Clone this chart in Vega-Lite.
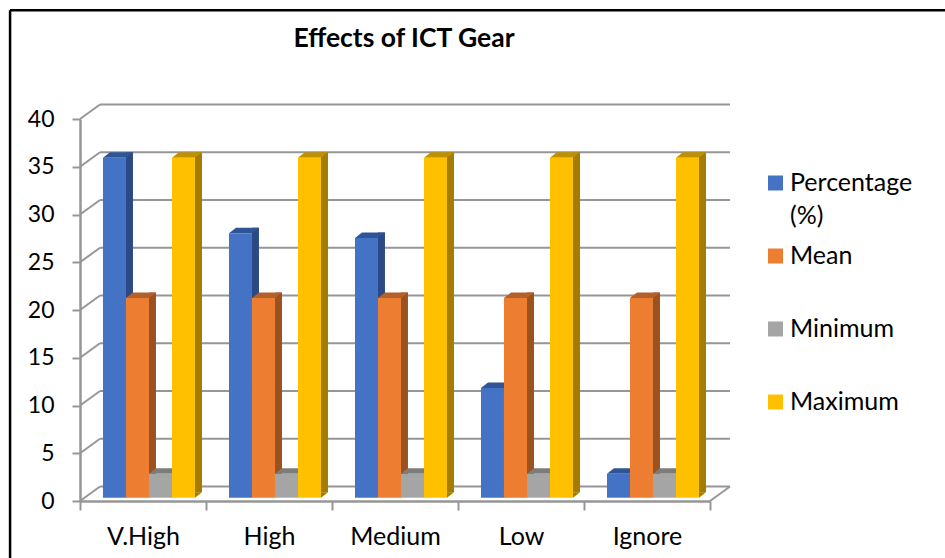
{
"$schema":"https://vega.github.io/schema/vega-lite/v6.json",
"autosize":{"type":"none"},
"padding":{"left":80,"top":119,"right":235,"bottom":57},
"width":630,"height":382,
"background":"white",
"title":{"text":"Effects of ICT Gear","font":"Lato","fontSize":26.5,"fontWeight":"bold","color":"#000000","anchor":"middle","dx":9,"offset":-44},
"config":{"view":{"stroke":null},"axis":{"grid":false}},
"datasets":{
"rows":[
{"level":"V.High","series":"Percentage (%)","value":35.6},
{"level":"High","series":"Percentage (%)","value":27.7},
{"level":"Medium","series":"Percentage (%)","value":27.2},
{"level":"Low","series":"Percentage (%)","value":11.5},
{"level":"Ignore","series":"Percentage (%)","value":2.5},
{"level":"V.High","series":"Mean","value":20.9},
{"level":"High","series":"Mean","value":20.9},
{"level":"Medium","series":"Mean","value":20.9},
{"level":"Low","series":"Mean","value":20.9},
{"level":"Ignore","series":"Mean","value":20.9},
{"level":"V.High","series":"Minimum","value":2.5},
{"level":"High","series":"Minimum","value":2.5},
{"level":"Medium","series":"Minimum","value":2.5},
{"level":"Low","series":"Minimum","value":2.5},
{"level":"Ignore","series":"Minimum","value":2.5},
{"level":"V.High","series":"Maximum","value":35.6},
{"level":"High","series":"Maximum","value":35.6},
{"level":"Medium","series":"Maximum","value":35.6},
{"level":"Low","series":"Maximum","value":35.6},
{"level":"Ignore","series":"Maximum","value":35.6}
],
"ticks":[{"t":0},{"t":5},{"t":10},{"t":15},{"t":20},{"t":25},{"t":30},{"t":35},{"t":40}]
},
"data":{"name":"rows"},
"resolve":{"scale":{"x":"independent","xOffset":"independent","color":"independent"},"axis":{"y":"independent"}},
"layer":[
{"data":{"values":[{"t":0}]},
 "mark":{"type":"rule","color":"#000000","strokeWidth":2.5},
 "encoding":{"x":{"datum":-0.111,"type":"quantitative","scale":{"domain":[0,1]},"axis":null},"x2":{"datum":1.381},"y":{"datum":51.4,"type":"quantitative","scale":{"domain":[0,40],"nice":false},"axis":null}}},
{"data":{"values":[{"t":0}]},
 "mark":{"type":"rule","color":"#000000","strokeWidth":2.5},
 "encoding":{"x":{"datum":-0.111,"type":"quantitative","scale":{"domain":[0,1]},"axis":null},"y":{"datum":51.4,"type":"quantitative","axis":null},"y2":{"datum":-6}}},
{"data":{"values":[{"t":0}]},
 "mark":{"type":"rule","color":"#000000","strokeWidth":2.5},
 "encoding":{"x":{"datum":1.381,"type":"quantitative","scale":{"domain":[0,1]},"axis":null},"y":{"datum":51.4,"type":"quantitative","axis":null},"y2":{"datum":-6}}},
{"data":{"name":"ticks"},
 "mark":{"type":"rule","color":"#969696","strokeWidth":2,"xOffset":20,"x2Offset":20,"yOffset":-14.5},
 "encoding":{"x":{"datum":0,"type":"quantitative","scale":{"domain":[0,1]},"axis":null},"x2":{"datum":1},"y":{"field":"t","type":"quantitative","axis":null}}},
{"data":{"name":"ticks"},
 "mark":{"type":"point","shape":"M0,0L20,-14.5","size":4,"filled":false,"color":"#969696","strokeWidth":2,"opacity":1},
 "encoding":{"x":{"datum":0,"type":"quantitative","scale":{"domain":[0,1]},"axis":null},"y":{"field":"t","type":"quantitative","axis":{"title":null,"values":[0,5,10,15,20,25,30,35,40],"labelFont":"Lato","labelFontSize":23,"labelColor":"#000000","labelPadding":18,"tickSize":8,"tickColor":"#969696","tickWidth":2,"domainColor":"#969696","domainWidth":2.5}}}},
{"data":{"values":[{"t":0}]},
 "mark":{"type":"point","shape":"M0,0L20,-14.5","size":4,"filled":false,"color":"#969696","strokeWidth":2,"opacity":1},
 "encoding":{"x":{"datum":1,"type":"quantitative","scale":{"domain":[0,1]},"axis":null},"y":{"field":"t","type":"quantitative","axis":null}}},
{"mark":{"type":"bar","width":7,"yOffset":-8.8,"y2Offset":-8.8,"stroke":null},
 "encoding":{
 "x":{"field":"level","type":"nominal","sort":["V.High","High","Medium","Low","Ignore"],"scale":{"paddingInner":0,"paddingOuter":0},"axis":null},
 "xOffset":{"field":"series","sort":["Percentage (%)","Mean","Minimum","Maximum"],"scale":{"range":[15,141],"paddingInner":0,"paddingOuter":0.739,"align":0.676}},
 "y":{"field":"value","type":"quantitative","stack":null,"axis":null},
 "y2":{"datum":0},
 "color":{"field":"series","scale":{"domain":["Percentage (%)","Mean","Minimum","Maximum"],"range":["#2B4A85","#9C5220","#6E6E6E","#A37C00"]},"legend":null}}},
{"mark":{"type":"point","shape":"M11.5,0L18.5,-5.5L11.5,-5.5Z","size":4,"filled":true,"opacity":1,"strokeWidth":0,"yOffset":-3.3},
 "encoding":{
 "x":{"field":"level","type":"nominal","sort":["V.High","High","Medium","Low","Ignore"],"scale":{"type":"band","paddingInner":0,"paddingOuter":0},"axis":null},
 "xOffset":{"field":"series","sort":["Percentage (%)","Mean","Minimum","Maximum"],"scale":{"type":"band","paddingInner":0,"paddingOuter":0.739,"align":0.676}},
 "y":{"datum":0,"type":"quantitative","axis":null},
 "color":{"field":"series","scale":{"domain":["Percentage (%)","Mean","Minimum","Maximum"],"range":["#2B4A85","#9C5220","#6E6E6E","#A37C00"]},"legend":null}}},
{"mark":{"type":"point","shape":"M-11.5,0L11.5,0L18.5,-5.5L-4.5,-5.5Z","size":4,"filled":true,"opacity":1,"strokeWidth":0,"yOffset":-3.3},
 "encoding":{
 "x":{"field":"level","type":"nominal","sort":["V.High","High","Medium","Low","Ignore"],"scale":{"type":"band","paddingInner":0,"paddingOuter":0},"axis":null},
 "xOffset":{"field":"series","sort":["Percentage (%)","Mean","Minimum","Maximum"],"scale":{"type":"band","paddingInner":0,"paddingOuter":0.739,"align":0.676}},
 "y":{"field":"value","type":"quantitative","axis":null},
 "color":{"field":"series","scale":{"domain":["Percentage (%)","Mean","Minimum","Maximum"],"range":["#2F5597","#B5602A","#7C7C7C","#BF9000"]},"legend":null}}},
{"mark":{"type":"bar","yOffset":-3.3,"y2Offset":-3.3,"stroke":null},
 "encoding":{
 "x":{"field":"level","type":"nominal","sort":["V.High","High","Medium","Low","Ignore"],"scale":{"paddingInner":0,"paddingOuter":0},"axis":{"title":null,"labelAngle":0,"tickBand":"extent","labelFont":"Lato","labelFontSize":25,"labelColor":"#000000","labelPadding":14,"tickSize":9,"tickColor":"#969696","tickWidth":2,"domainColor":"#969696","domainWidth":2.5}},
 "xOffset":{"field":"series","sort":["Percentage (%)","Mean","Minimum","Maximum"],"scale":{"paddingInner":0,"paddingOuter":0.739,"align":0.676}},
 "y":{"field":"value","type":"quantitative","stack":null,"axis":null},
 "y2":{"datum":0},
 "color":{"field":"series","scale":{"domain":["Percentage (%)","Mean","Minimum","Maximum"],"range":["#4472C4","#ED7D31","#A5A5A5","#FFC000"]},
 "legend":{"title":null,"orient":"none","legendX":683,"legendY":51.5,"symbolType":"square","symbolSize":225,"symbolStrokeWidth":0,"labelOffset":2,"labelFont":"Lato","labelFontSize":25,"labelColor":"#000000","labelBaseline":"alphabetic","labelLimit":200,"gridAlign":"all","rowPadding":14,"labelExpr":"datum.label === 'Percentage (%)' ? ['Percentage','(%)'] : datum.label","encoding":{"labels":{"dy":{"value":8},"lineHeight":{"value":33}}}}}}}
]
}
